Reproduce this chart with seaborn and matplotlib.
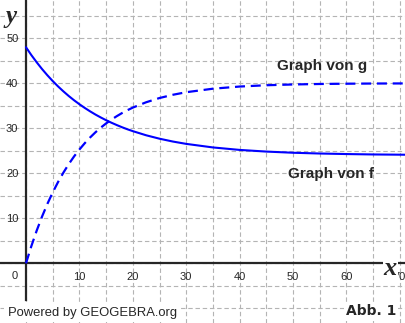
import numpy as np
import pandas as pd
import matplotlib
matplotlib.use("Agg")
import matplotlib.pyplot as plt
from matplotlib.ticker import MultipleLocator, FixedLocator
import seaborn as sns

# values
x_vals = [0, 1, 2, 3, 4, 5, 6, 7, 8, 9, 10, 11, 12, 13, 14, 15, 16, 17, 18, 19, 20,
          22.5, 25, 27.5, 30, 35, 40, 45, 50, 55, 60, 65, 70, 71]
f_vals = [48.0, 46.26, 44.66, 43.16, 41.78, 40.49, 39.30, 38.20, 37.17, 36.22, 35.34,
          34.52, 33.76, 33.05, 32.40, 31.79, 31.23, 30.71, 30.22, 29.77, 29.36,
          28.44, 27.68, 27.05, 26.53, 25.74, 25.19, 24.82, 24.56, 24.39, 24.27, 24.18, 24.13, 24.12]
g_vals = [0.0, 3.81, 7.25, 10.37, 13.19, 15.74, 18.05, 20.14, 22.03, 23.74, 25.28,
          26.68, 27.95, 29.10, 30.14, 31.08, 31.92, 32.69, 33.39, 34.02, 34.59,
          35.78, 36.72, 37.44, 38.01, 38.79, 39.27, 39.56, 39.73, 39.84, 39.90, 39.94, 39.96, 39.97]
x_tick_labels = ["10", "20", "30", "40", "50", "60", "70"]
y_tick_labels = ["10", "20", "30", "40", "50"]
label_f = "Graph von f"
label_g = "Graph von g"

df = pd.DataFrame({"x": x_vals, "f": f_vals, "g": g_vals})

sns.set_style("white")
plt.rcParams["font.family"] = ["Liberation Sans", "DejaVu Sans"]

fig = plt.figure(figsize=(4.05, 3.23), dpi=100)
ax = fig.add_axes([0, 0, 1, 1])

ax.set_xlim(-4.87, 70.97)
ax.set_ylim(-13.27, 58.5)

# grid
ax.xaxis.set_major_locator(FixedLocator([10 * i for i in range(1, 8)]))
ax.yaxis.set_major_locator(FixedLocator([10 * i for i in range(1, 6)]))
ax.xaxis.set_minor_locator(MultipleLocator(5))
ax.yaxis.set_minor_locator(MultipleLocator(5))
ax.grid(which="both", color="#b4b4b4", linestyle=(0, (4, 2.5)), linewidth=0.8, zorder=0)
ax.set_axisbelow(True)

sns.lineplot(data=df, x="x", y="f", ax=ax, color="#0000ff", linewidth=1.5, zorder=3)
sns.lineplot(data=df, x="x", y="g", ax=ax, color="#0000ff", linewidth=1.6, zorder=3)
ax.lines[-1].set_dashes([4.5, 2.6])

# axes through origin
for s in ["top", "right"]:
    ax.spines[s].set_visible(False)
ax.spines["left"].set_position(("data", 0))
ax.spines["bottom"].set_position(("data", 0))
ax.spines["left"].set_linewidth(1.6)
ax.spines["bottom"].set_linewidth(1.6)
ax.spines["left"].set_bounds(-8.2, 58.5)
ax.spines["left"].set_zorder(2)
ax.spines["bottom"].set_zorder(2)

ax.set_xticklabels(x_tick_labels)
ax.set_yticklabels(y_tick_labels)
ax.tick_params(which="both", direction="inout", length=4, width=1.2, color="black",
               labelsize=8, pad=3.5)
ax.tick_params(axis="x", which="major", pad=4)
ax.set_xlabel("")
ax.set_ylabel("")

ax.text(-2.2, -1.8, "0", fontsize=8, ha="center", va="top")

ax.text(-3.9, 53.4, "y", fontsize=18, family="Liberation Serif", style="italic",
        fontweight="bold", ha="left", va="baseline")
ax.text(67.0, -1.2, "x", fontsize=19, family="Liberation Serif", style="italic",
        fontweight="bold", ha="left", va="center", zorder=5,
        bbox=dict(facecolor="white", edgecolor="none", pad=0.3))

ax.text(47.0, 43.0, label_g, fontsize=11, fontweight="bold", ha="left", va="baseline")
ax.text(49.1, 19.0, label_f, fontsize=11, fontweight="bold", ha="left", va="baseline")

ax.text(-3.4, -11.7, "Powered by GEOGEBRA.org", fontsize=9.4, ha="left", va="baseline",
        zorder=6, bbox=dict(facecolor="white", edgecolor="none", pad=2.5))
ax.text(59.9, -11.6, "Abb. 1", fontsize=10, family="DejaVu Sans", fontweight="bold",
        ha="left", va="baseline", zorder=6,
        bbox=dict(facecolor="white", edgecolor="none", pad=1.5))

fig.savefig("out.png", dpi=100)
